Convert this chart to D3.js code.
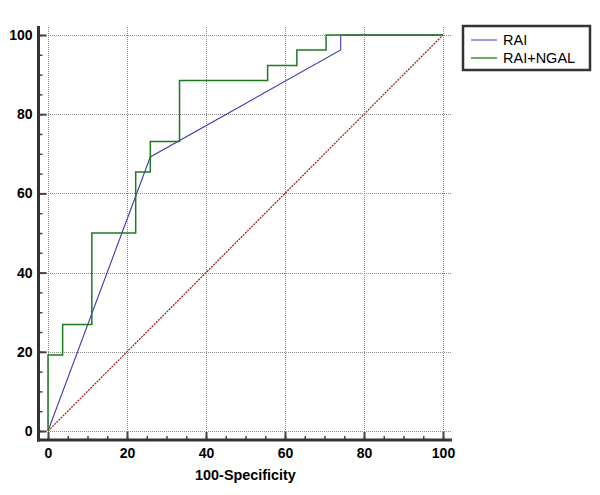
<!DOCTYPE html>
<html>
<head>
<meta charset="utf-8">
<script src="https://cdn.jsdelivr.net/npm/d3@7"></script>
<style>
  body { margin: 0; background: #fff; }
  svg { display: block; }
</style>
</head>
<body>
<div id="chart"></div>
<script>
// DATA
var seriesNames = ["RAI", "RAI+NGAL"];
// 100-Specificity (x) and Sensitivity (y) points
var raiX = [0, 25.9, 74.1, 74.1, 100];
var raiY = [0, 69.2, 96.2, 100, 100];
var ngalX = [0, 0, 3.7, 3.7, 11.1, 11.1, 22.2, 22.2, 25.9, 25.9, 33.3, 33.3, 55.6, 55.6, 63.0, 63.0, 70.4, 70.4, 100];
var ngalY = [0, 19.2, 19.2, 26.9, 26.9, 50.0, 50.0, 65.4, 65.4, 73.1, 73.1, 88.5, 88.5, 92.3, 92.3, 96.2, 96.2, 100, 100];
var refLine = [0, 100];
var majorTicks = [0, 20, 40, 60, 80, 100];
var minorTicks = d3.range(0, 101, 5);
var xTitle = "100-Specificity";

function drawChart() {
  var width = 600, height = 495;
  var svg = d3.select("#chart").append("svg")
    .attr("width", width)
    .attr("height", height);

  // SCALES
  var xScale = d3.scaleLinear().domain([0, 100]).range([48, 443]);
  var yScale = d3.scaleLinear().domain([0, 100]).range([431, 35]);

  var axisX = 38.5, axisY = 440;

  // GRID
  var grid = svg.append("g").attr("class", "grid");
  grid.selectAll(".hgrid")
    .data(majorTicks)
    .enter()
    .append("line")
    .attr("x1", axisX + 1.5)
    .attr("x2", 451)
    .attr("y1", (d) => Math.round(yScale(d)) + 0.5)
    .attr("y2", (d) => Math.round(yScale(d)) + 0.5)
    .attr("stroke", "#8c8c8c")
    .attr("stroke-width", 1)
    .attr("stroke-dasharray", "1,1");
  grid.selectAll(".vgrid")
    .data(majorTicks)
    .enter()
    .append("line")
    .attr("y1", 27)
    .attr("y2", axisY - 1.5)
    .attr("x1", (d) => Math.round(xScale(d)) + 0.5)
    .attr("x2", (d) => Math.round(xScale(d)) + 0.5)
    .attr("stroke", "#8c8c8c")
    .attr("stroke-width", 1)
    .attr("stroke-dasharray", "1,1");

  // AXES (ticks point inward)
  var yMajor = d3.axisLeft(yScale).tickValues(majorTicks)
    .tickSizeInner(-8).tickSizeOuter(0).tickPadding(6);
  var yMinor = d3.axisLeft(yScale).tickValues(minorTicks)
    .tickSizeInner(-4).tickSizeOuter(0).tickFormat("");
  var xMajor = d3.axisBottom(xScale).tickValues(majorTicks)
    .tickSizeInner(-8).tickSizeOuter(0).tickPadding(8);
  var xMinor = d3.axisBottom(xScale).tickValues(minorTicks)
    .tickSizeInner(-4).tickSizeOuter(0).tickFormat("");

  function styleAxis(g) {
    g.select(".domain").remove();
    g.selectAll(".tick line").attr("stroke", "#444").attr("stroke-width", 1.5);
    g.selectAll("text")
      .style("font-family", "'Liberation Sans', Arial, sans-serif")
      .style("font-weight", "bold")
      .style("font-size", "14px")
      .attr("fill", "#000");
  }

  svg.append("g").attr("transform", "translate(" + axisX + ",0)").call(yMinor).call(styleAxis);
  svg.append("g").attr("transform", "translate(" + axisX + ",0)").call(yMajor).call(styleAxis)
    .selectAll(".tick line").attr("stroke-width", 2);
  svg.append("g").attr("transform", "translate(0," + axisY + ")").call(xMinor).call(styleAxis);
  svg.append("g").attr("transform", "translate(0," + axisY + ")").call(xMajor).call(styleAxis)
    .selectAll(".tick line").attr("stroke-width", 2);

  // axis lines
  svg.append("line")
    .attr("x1", axisX).attr("x2", axisX)
    .attr("y1", 26).attr("y2", axisY + 1.5)
    .attr("stroke", "#333").attr("stroke-width", 3);
  svg.append("line")
    .attr("x1", axisX - 1.5).attr("x2", 452)
    .attr("y1", axisY).attr("y2", axisY)
    .attr("stroke", "#333").attr("stroke-width", 3);

  // X AXIS TITLE
  svg.append("text")
    .attr("x", (xScale(0) + xScale(100)) / 2)
    .attr("y", 480)
    .attr("text-anchor", "middle")
    .style("font", "bold 14.4px 'Liberation Sans', Arial, sans-serif")
    .text(xTitle);

  // REFERENCE DIAGONAL
  svg.append("line")
    .attr("x1", xScale(refLine[0])).attr("y1", yScale(refLine[0]))
    .attr("x2", xScale(refLine[1])).attr("y2", yScale(refLine[1]))
    .attr("stroke", "#a02828")
    .attr("stroke-width", 1.3)
    .attr("stroke-dasharray", "2,1");

  // CURVES
  var line = d3.line().x((d) => xScale(d[0])).y((d) => yScale(d[1]));
  var raiPts = raiX.map((x, i) => [x, raiY[i]]);
  var ngalPts = ngalX.map((x, i) => [x, ngalY[i]]);

  svg.append("path")
    .datum(raiPts)
    .attr("d", line)
    .attr("fill", "none")
    .attr("stroke", "#3b3bb0")
    .attr("stroke-width", 1.1);

  svg.append("path")
    .datum(ngalPts)
    .attr("d", line)
    .attr("fill", "none")
    .attr("stroke", "#1e7a1e")
    .attr("stroke-width", 1.5);

  // LEGEND
  var legendColors = ["#9a9ae0", "#6aae6a"];
  var legend = svg.append("g").attr("class", "legend");
  legend.append("rect")
    .attr("x", 463).attr("y", 26)
    .attr("width", 127).attr("height", 44)
    .attr("fill", "#fff")
    .attr("stroke", "#333")
    .attr("stroke-width", 2.5);
  var items = legend.selectAll(".item")
    .data(seriesNames)
    .enter()
    .append("g")
    .attr("transform", (d, i) => "translate(0," + (40 + i * 18) + ")");
  items.append("line")
    .attr("x1", 471).attr("x2", 497)
    .attr("y1", 0).attr("y2", 0)
    .attr("stroke", (d, i) => legendColors[i])
    .attr("stroke-width", 2);
  items.append("text")
    .attr("x", 503)
    .attr("y", 5)
    .style("font", "14.5px 'Liberation Sans', Arial, sans-serif")
    .text((d) => d);
}

drawChart();
</script>
</body>
</html>
